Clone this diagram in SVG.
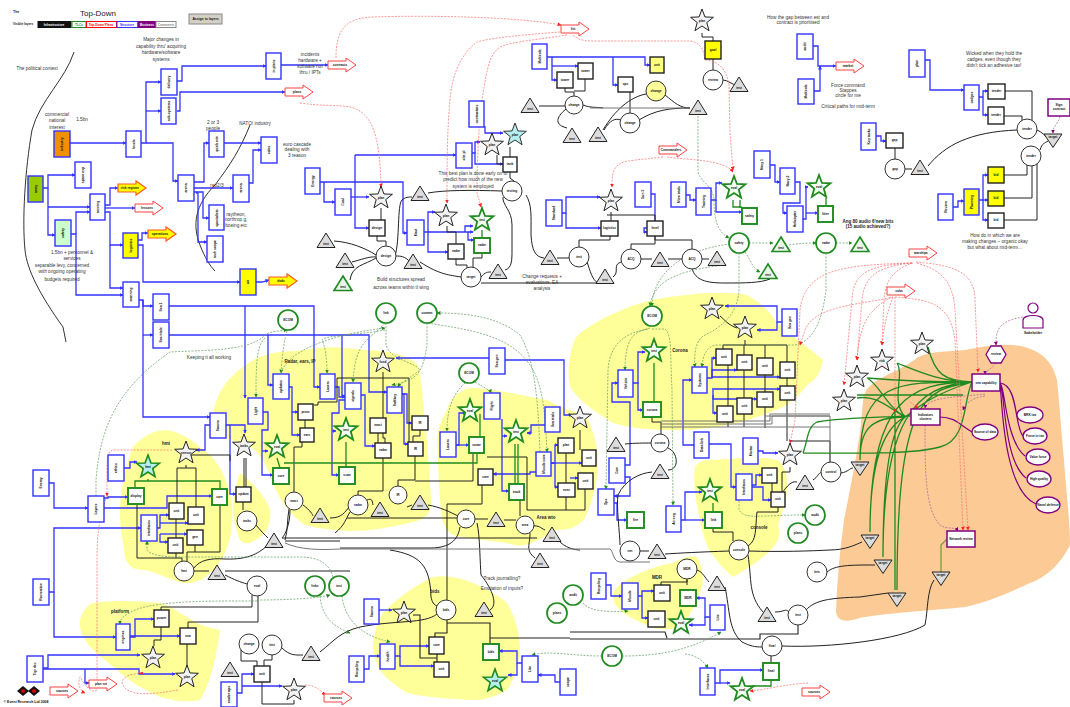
<svg xmlns="http://www.w3.org/2000/svg" width="1070" height="707" viewBox="0 0 1070 707">
<style>
text{font-family:"Liberation Sans",Arial,sans-serif;fill:#222}
.t{font-size:3.2px;font-weight:bold;text-anchor:middle;fill:#111}
.v{font-size:3.4px;font-weight:bold;text-anchor:middle;dominant-baseline:central;fill:#111}
.l{font-size:4.7px;text-anchor:middle;fill:#333}
.h{font-size:4.5px;font-weight:bold;text-anchor:middle;fill:#222}
.bb{fill:#fff;stroke:#3333ff;stroke-width:1.4}
.kb{fill:#fff;stroke:#222;stroke-width:1.4}
.gb{fill:#fff;stroke:#1f8a1f;stroke-width:1.9}
.yb{fill:#ffff00;stroke:#222;stroke-width:1.4}
.pb{fill:#fff;stroke:#800080;stroke-width:1.5}
.c{fill:#fff;stroke:#333;stroke-width:1}
.cg{fill:#fff;stroke:#1f8a1f;stroke-width:1.7}
.s0{fill:#f2f2f2;stroke:#222;stroke-width:1}
.sg{fill:#f4fff4;stroke:#1f8a1f;stroke-width:1.8}
.sc{fill:#b5eeee;stroke:#1f8a1f;stroke-width:1.6}
.sb{fill:#b5eeee;stroke:#333;stroke-width:1}
.tr{fill:#dcdcdc;stroke:#222;stroke-width:1}
.tg{fill:#e8f5e8;stroke:#1f8a1f;stroke-width:1.6}
.ra{fill:#fff;stroke:#ff4040;stroke-width:1}
.ya{fill:#ffff00;stroke:#ff5a20;stroke-width:1.2}
.e{fill:#fff;stroke:#800080;stroke-width:1.3}
path.B,path.K,path.G,path.P,path.R,path.DG,path.DP,path.O{fill:none}
.B{stroke:#3333ff;stroke-width:1.3;marker-end:url(#ab)}
.K{stroke:#222;stroke-width:1}
.Y{stroke:#777;stroke-width:1;fill:none}
.G{stroke:#1f8a1f;stroke-width:1.3}
.P{stroke:#800080;stroke-width:1.2}
.R{stroke:#ff6a6a;stroke-width:.7;stroke-dasharray:2 1.3;marker-end:url(#ar)}
.DG{stroke:#5c9a5c;stroke-width:.7;stroke-dasharray:2 1.3;marker-end:url(#ag)}
.DP{stroke:#a060a0;stroke-width:.7;stroke-dasharray:2 1.3;marker-end:url(#ap)}
.O{stroke:#222;stroke-width:1.1}
</style>
<defs>
<marker id="ab" markerUnits="userSpaceOnUse" markerWidth="4" markerHeight="4" refX="3.5" refY="2" orient="auto"><path d="M0,0L4,2L0,4Z" fill="#3333ff"/></marker>
<marker id="ar" markerUnits="userSpaceOnUse" markerWidth="4" markerHeight="4" refX="3.5" refY="2" orient="auto"><path d="M0,0L4,2L0,4Z" fill="#ff2020"/></marker>
<marker id="ag" markerUnits="userSpaceOnUse" markerWidth="4" markerHeight="4" refX="3.5" refY="2" orient="auto"><path d="M0,0L4,2L0,4Z" fill="#1f8a1f"/></marker>
<marker id="ap" markerUnits="userSpaceOnUse" markerWidth="4" markerHeight="4" refX="3.5" refY="2" orient="auto"><path d="M0,0L4,2L0,4Z" fill="#800080"/></marker>
<path id="st" d="M0,-12L2.94,-4.05L11.41,-3.71L4.76,1.55L7.05,9.71L0,5L-7.05,9.71L-4.76,1.55L-11.41,-3.71L-2.94,-4.05Z"/>
<path id="tu" d="M0,-8L9,6.5H-9Z"/>
<path id="td" d="M-9,-6H9L0,7.5Z"/>
<path id="ar2" d="M0,3H18V0L28,7L18,14V11H0Z"/>
</defs>

<g id="regions">
<path fill="#fcca95" d="M918,357C935,350 950,352 965,350C985,346 1005,343 1020,346C1040,350 1052,360 1057,380C1060,410 1062,440 1064,460C1066,490 1070,520 1070,545C1060,565 1045,578 1030,583C1005,595 985,603 965,607C925,611 885,613 860,618C850,621 838,624 836,612C837,580 840,550 844,520C850,490 857,455 861,425C863,405 862,395 868,388C880,375 900,372 918,357Z"/>
<path fill="#ffff99" d="M133,447C145,433 160,428 172,431C190,436 200,448 210,455C220,465 228,480 232,505C233,530 230,548 218,565C205,580 195,584 183,583C165,578 158,573 145,570C132,570 125,565 124,550C122,535 119,520 120,505C122,480 128,460 133,447Z"/>
<path fill="#ffff99" d="M240,473C250,480 265,495 270,510C272,525 265,536 255,540C248,545 241,545 238,535C235,525 232,515 233,505C235,490 237,480 240,473Z"/>
<path fill="#ffff99" d="M213,413C218,390 228,375 257,358C275,350 290,352 305,350C330,345 345,348 363,350C385,350 410,355 418,365C422,380 423,405 426,430C428,455 430,480 431,500C432,515 425,520 405,524C385,528 370,531 350,531C330,530 315,528 305,525C290,515 280,500 275,488C270,475 265,460 255,450C240,440 222,440 216,432C213,425 212,418 213,413Z"/>
<path fill="#ffff99" d="M447,410C450,400 458,390 470,388C490,388 520,395 547,400C565,410 580,412 587,417C595,435 598,450 598,465C597,480 595,495 585,518C575,530 565,530 555,530C540,540 525,548 515,545C495,540 470,540 453,535C445,530 442,522 441,510C439,490 438,465 437,440C438,428 442,418 447,410Z"/>
<path fill="#ffff99" d="M570,357C572,345 575,337 580,333C595,322 610,315 622,310C645,300 665,297 687,295C710,292 730,292 747,295C765,305 772,315 777,323C790,335 812,350 823,360C820,375 815,380 808,384C800,395 790,403 783,407C765,415 750,420 737,423C715,428 690,431 670,430C650,430 630,428 613,423C595,412 578,400 570,387C568,375 568,365 570,357Z"/>
<path fill="#ffff99" d="M695,467C700,460 705,460 713,460C735,458 760,456 777,460C785,465 788,475 787,490C785,505 781,515 778,525C780,535 779,540 775,545C765,558 745,570 733,577C722,568 715,558 709,550C703,535 700,525 698,510C695,495 693,480 695,467Z"/>
<path fill="#ffff99" d="M613,593C618,585 625,580 632,577C645,570 660,565 672,563C685,557 692,555 697,557C703,568 704,578 702,587C695,605 688,620 680,627C670,630 660,630 650,627C635,620 625,615 620,610C615,605 612,600 613,593Z"/>
<path fill="#ffff99" d="M80,620C83,610 88,605 93,603C115,600 140,601 160,603C170,606 178,612 187,617C197,625 210,628 220,630C218,645 216,655 213,667C210,680 205,692 200,700C185,703 172,700 160,697C145,690 130,682 117,670C105,660 92,650 87,643C82,635 79,628 80,620Z"/>
<path fill="#ffff99" d="M373,643C375,630 378,620 383,613C395,600 415,585 433,577C447,575 460,578 473,583C488,590 498,595 507,603C516,618 519,633 520,647C519,665 514,680 507,690C495,697 485,700 473,700C450,699 425,697 407,693C395,685 385,678 380,670C375,660 372,652 373,643Z"/>
</g>

<g id="context-curves" fill="none" stroke="#333" stroke-width="1">
<path d="M74,52C65,80 40,100 32,130C25,170 22,220 25,250C27,270 40,295 63,327L66,342"/>
<path d="M250,125C240,150 230,165 215,185C195,205 192,225 200,245C205,258 210,266 215,271"/>
</g>

<g id="connectors">
<path class="B" d="M70,143H126"/><path class="B" d="M141,143H146V82H161"/><path class="B" d="M146,111H161"/><path class="B" d="M146,143H173V181H178"/><path class="B" d="M177,81H182V66H266"/><path class="B" d="M177,111H180V92H285"/><path class="B" d="M281,65H328"/>
<path class="B" d="M194,182H204V143H209"/><path class="B" d="M194,188H233"/><path class="B" d="M194,192H203V218H209"/><path class="B" d="M196,193H198V242H207"/><path class="B" d="M224,143H261"/><path class="B" d="M249,183H253V150H261"/>
<path class="B" d="M43,188H48V175H75"/><path class="B" d="M48,188V235H55"/><path class="B" d="M48,207H90"/><path class="B" d="M71,234H76V295H123"/><path class="B" d="M76,234V212H90"/>
<path class="B" d="M105,205H110V188H118"/><path class="B" d="M105,208H135"/><path class="B" d="M105,212H110V245H123"/><path class="B" d="M110,245V288H123"/><path class="B" d="M138,240H142V233H148"/><path class="B" d="M138,245H143V282H240"/><path class="B" d="M256,282H262L269,280"/>
<path class="B" d="M139,300H143V417H210"/><path class="B" d="M143,300V306H153"/><path class="B" d="M143,335H153"/><path class="B" d="M169,306H314V387H320"/><path class="B" d="M245,306V398"/><path class="B" d="M169,335H369V392H387"/><path class="B" d="M342,335V396H345"/><path class="B" d="M268,335V385H273"/>
<path class="B" d="M49,483H54V508H88"/><path class="B" d="M124,468H130V462H137"/><path class="B" d="M104,498H108V497H128"/><path class="B" d="M104,508H167V496H212"/><path class="B" d="M210,425H205V450H196"/><path class="B" d="M225,425H245V433"/><path class="B" d="M230,425V494H236"/>
<path class="B" d="M263,412H268V430H262V475H273"/><path class="B" d="M262,451H268"/><path class="B" d="M289,387H292V412H298"/><path class="B" d="M292,412V435H300"/>
<path class="B" d="M335,387H339V397H345"/><path class="B" d="M345,400H339V413H332V475H339"/><path class="B" d="M332,431H336"/><path class="B" d="M361,395H365V446H375"/><path class="B" d="M402,394H407V423H412"/><path class="B" d="M402,394H404V444H408"/>
<path class="B" d="M456,445H469"/><path class="B" d="M456,445H459V413H466"/><path class="B" d="M502,419V491H509"/><path class="B" d="M502,436H507"/><path class="B" d="M505,360H564V415H572"/><path class="B" d="M489,358H396"/><path class="B" d="M545,425H531V433H527"/><path class="B" d="M536,472H530V474H493"/>
<path class="B" d="M551,463H555V445H558"/><path class="B" d="M555,463V487H558"/><path class="B" d="M551,463H582"/><path class="B" d="M570,478H578"/>
<path class="B" d="M633,383H638V352H645"/><path class="B" d="M638,383V410H643"/><path class="B" d="M625,465H630V402H612V383H618"/><path class="B" d="M625,477H630V496H614"/><path class="B" d="M614,503H617V520H627"/><path class="B" d="M681,520H685V492H702"/><path class="B" d="M685,520H705"/><path class="B" d="M694,445H683V380H692"/><path class="B" d="M709,444H731V487H736"/>
<path class="B" d="M758,451H763V453H778"/><path class="B" d="M752,487H763V500H771"/><path class="B" d="M752,485H756V475H762"/><path class="B" d="M782,322H777V306H725"/><path class="B" d="M777,322V330H757"/>
<path class="B" d="M707,378H712V370H737"/><path class="B" d="M712,377H780"/><path class="B" d="M712,389H780"/><path class="B" d="M713,390V399H757"/><path class="B" d="M713,395V413H717"/><path class="B" d="M712,378V358H716"/>
<path class="B" d="M606,585H611V596H622"/><path class="B" d="M638,596H642V591H654"/><path class="B" d="M642,596V618H648"/><path class="B" d="M725,617H705V598H696"/><path class="B" d="M705,617V625H689"/><path class="B" d="M715,683H720V670H763"/><path class="B" d="M720,683H730"/>
<path class="B" d="M379,610H392"/><path class="B" d="M364,669H369V656H380"/><path class="B" d="M395,656H400V646H429"/><path class="B" d="M400,656V666H434"/><path class="B" d="M522,663H517V651H499"/><path class="B" d="M517,663V675H508"/><path class="B" d="M560,682H555V675H538"/>
<path class="B" d="M49,592H54V528H141"/><path class="B" d="M54,592V637H116"/><path class="B" d="M130,637H135V619H154"/><path class="B" d="M130,636H180"/><path class="B" d="M43,668H48V655H140"/><path class="B" d="M43,669H139V674H175"/><path class="B" d="M85,669V683H89"/><path class="B" d="M237,693H242V674H254"/><path class="B" d="M242,686H282"/>
<path class="B" d="M157,528H160V515H169"/><path class="B" d="M160,523H188"/><path class="B" d="M160,534H187"/><path class="B" d="M160,534V542H168"/>
<path class="B" d="M876,136H881V141H886"/><path class="B" d="M925,60H930V90H964"/><path class="B" d="M979,97H983V91H988"/><path class="B" d="M983,97V115H988"/><path class="B" d="M953,207H958V201H964"/><path class="B" d="M979,200H983V175H988"/><path class="B" d="M983,200H988"/><path class="B" d="M983,200V220H988"/><path class="B" d="M813,46H818V66H836"/><path class="B" d="M814,91H820V66"/>
<path class="B" d="M547,57H645V65H650"/><path class="B" d="M552,57V80H557"/><path class="B" d="M552,66H578"/><path class="B" d="M613,57V85H618"/><path class="B" d="M484,127H485V133H503"/><path class="B" d="M472,153H475V164H503"/><path class="B" d="M475,153V142H480"/>
<path class="B" d="M355,155H456"/><path class="B" d="M355,155V228H369"/><path class="B" d="M351,197H369"/><path class="B" d="M320,182H403V233H407"/><path class="B" d="M324,182V202H335"/><path class="B" d="M424,232H473"/><path class="B" d="M428,232V212H435"/><path class="B" d="M428,232V252H448"/><path class="B" d="M465,232V226H473"/><path class="B" d="M468,232V240H474"/>
<path class="B" d="M562,213H566V197H600"/><path class="B" d="M566,213V228H601"/><path class="B" d="M651,194H655V228H644V232H647"/><path class="B" d="M686,195H690V200H696"/><path class="B" d="M711,200H716V183H722"/><path class="B" d="M716,200V212H742"/><path class="B" d="M770,165H775V182H780"/><path class="B" d="M795,182H800V203H783V213H787"/><path class="B" d="M803,219H806V187H808"/><path class="B" d="M806,213H818"/>

<path class="K" d="M377,236V241H386V246M381,208V220M334,241C350,242 365,248 376,255M352,262C360,260 370,256 376,257M350,280C352,265 365,265 376,258M396,256C400,256 405,256 410,262M420,262C440,275 450,275 461,277M395,256C400,240 397,205 402,200C406,197 408,197 412,197M428,193C445,190 470,190 502,191M510,172V178L514,181M510,147V157M497,155V164H503M447,226V232H456V244M456,259V265H467V268M482,253V258H473V268M481,277C485,272 488,272 491,272M505,270C512,268 512,260 512,250V225C512,210 502,205 503,197M526,195C532,205 531,215 531,235C532,250 535,257 544,258M481,283H598M557,258H569M587,262C590,270 592,280 598,283M579,247V240H610V236M565,88V92H574V96M585,79V91H574M539,106H565"/>
<path class="K" d="M583,105C590,108 598,107 603,108M603,130C615,110 630,97 646,94M665,95C675,103 680,108 690,108M639,120C655,110 670,108 690,108M630,92V113M566,109C555,118 555,125 567,128M604,130C610,120 615,118 621,120M713,59V70M702,33V37H713V41M723,80C728,80 732,85 737,85M611,212V221M607,215H655M655,215V221M655,236V240H692V249M655,236V244H631V249M641,259H652M668,259H682M702,259H709M692,269C696,280 705,283 725,283C745,283 760,283 770,279M621,262C612,265 620,272 613,277"/>
<path class="Y" d="M590,108H690"/>
<path class="K" d="M895,148V159M905,169H912M928,166C945,145 970,132 1017,130M1005,91H1032V121M1004,116H1022V122M1004,175H1027V163M1004,198H1032V166M1004,220H1037V163M1040,150C1042,143 1045,143 1048,141M1037,130C1042,132 1045,136 1047,137"/>
<path class="K" d="M305,420V428M314,405H318V402H337V378H409V442M383,372V438H385V443M378,433V443M420,430V436H413V442M302,442V447H294V492M383,458V491H358V495M415,456V480H398V486M473,453V481H415M482,485V504H447M447,504V600M487,457H527V510M516,500H520V516M566,497V510H527M585,489V510H566M566,453V483M580,430V450"/>
<path class="G" d="M284,463H477V453M277,458L280,468M346,442V467M515,444V484M518,444V484M482,230V238M654,363V402M713,503V512M771,680V686H752M148,479V481H135V488M148,481H220V488M480,414V437M740,200V208M826,198V206M733,200V207H742"/>
<path class="K" d="M303,505C310,510 313,515 313,516M330,518C342,518 345,512 349,507M367,500C372,498 372,500 373,505M350,512C345,520 345,525 335,533M289,509C287,520 288,530 285,540M347,518H457M407,507L412,505M428,505C440,507 450,512 458,516M475,519H488M504,520H516M530,533C530,545 525,550 535,558M558,540C565,548 575,550 580,550M531,526C540,525 540,528 545,530M477,523C480,535 480,565 481,575C493,590 498,605 490,610M460,527C458,540 450,548 430,548H340"/>
<path class="K" d="M282,538H537M285,541H340M390,550C420,555 430,565 431,597C432,602 434,605 437,606M437,614C425,624 395,620 360,627C340,632 335,640 320,652M194,568C200,560 210,558 225,559C250,560 260,552 268,545M225,571H350M194,571H209M225,575C235,580 240,582 247,584M258,596V622H188V628M252,595V607H161V610M161,627V640H154V646M187,666V644"/>
<path class="Y" d="M285,543C300,550 320,550 340,549H610C613,550 613,562 620,562H650"/>
<path class="K" d="M186,465V468H177V503M186,468H196V507M137,505V558H182V562M220,505V552H187V561M176,553V558M195,545V552M176,519V538M243,502V510M256,525C260,530 265,535 268,538M290,510C290,525 285,535 282,538M190,455H230V461M244,458V487M246,458V487"/>
<path class="K" d="M640,551H649M665,554C680,553 700,552 729,551M749,551C780,552 810,551 830,550C845,550 855,545 862,542M748,555C752,580 748,595 763,612M775,612C785,612 785,608 789,612M806,610C815,600 830,598 860,597L888,593M827,572C835,565 850,565 875,565M782,646C830,648 900,640 925,625C928,610 927,590 934,580M725,587C730,610 728,630 742,642C750,646 755,647 762,647M697,570C703,572 705,578 709,582M687,579V585M687,580V582H661V585"/>
<path class="O" d="M490,638H570M570,632H665L667,638M570,639H667H760V634H798V625M490,644V623H447V620M447,620V633H435V637M437,654V658H420V615H413M437,654V662M771,656V663"/>
<path class="K" d="M652,417V422H661V434M728,422V427M744,414V427M765,407V428M728,365V406M744,370V398M765,375V392M787,378V386M745,340V345M723,349V345H787V362M744,345V355M765,345V358M787,400V441M790,441H830V463M790,467V472H782V492M772,483V492M778,507V512H757C755,530 757,540 748,546M713,528V532H733V541M625,444C635,443 645,443 651,443M668,448C678,452 680,470 668,470M652,472C640,473 625,480 618,495C616,505 620,535 620,545M813,480C818,477 818,473 822,472M780,495C785,490 790,480 797,482M841,473C848,472 850,468 853,468M241,650V661H257V666M272,655V660H264V666M282,648C290,656 296,655 303,655M262,682V704H294V700M720,316C725,320 728,325 737,328"/>
<path class="Y" d="M661,427H830M661,424H772V416H830M661,421H770V414H830M765,416H830V463"/>

<path class="G" d="M972,382C945,381 935,375 928,347M972,382C940,382 915,370 897,363M972,382C925,382 890,380 867,378M963,395H857M972,382C930,395 915,410 905,417M905,417C885,405 875,395 857,398M905,417C885,405 880,385 867,378M905,417C890,400 905,375 897,363M972,382C900,382 860,380 860,460M905,417C870,417 860,430 860,460M972,382C910,382 870,400 870,532M905,417C880,430 870,470 870,532M972,382C915,385 883,420 883,557M905,417C890,430 883,480 883,557M972,382C925,390 897,395 897,590M895,412V590M972,382C963,400 968,440 940,447C910,455 850,453 803,453M910,416C860,418 840,418 817,422C807,427 808,440 803,453"/>
<path class="G" style="stroke:#7a9c3a" d="M941,572V545L947,539"/>
<path class="P" d="M1000,383C1015,385 1015,412 1017,415M1000,383C1018,384 1015,430 1023,436M1000,383C1005,384 1005,440 1025,456M1000,383C1005,390 1003,460 1026,478M1000,383C1002,400 1003,490 1036,504M972,432C960,425 955,417 940,417"/>

<path class="R" d="M336,58C336,30 345,18 373,17C430,15 520,17 561,25"/><path class="R" d="M300,103C320,106 340,105 350,107C370,112 380,130 381,187"/><path class="R" d="M567,35C535,40 510,42 500,47C490,55 488,62 482,100C478,130 477,170 477,193L481,207"/><path class="R" d="M560,32C520,35 490,38 477,42C460,55 452,75 450,100C447,130 447,170 447,203"/><path class="R" d="M573,35C580,42 590,41 600,41H690C700,42 704,50 705,60C718,60 727,70 729,85L730,133L733,170"/>
<path class="R" d="M663,157C640,160 622,160 618,165C612,170 612,178 612,187"/><path class="R" d="M667,157C690,160 725,160 733,172"/>
<path class="R" d="M912,263C840,265 805,270 800,310L795,420L790,443"/><path class="R" d="M912,263C870,265 853,272 852,300L844,385"/><path class="R" d="M912,263C880,266 864,275 862,300L857,360"/><path class="R" d="M913,263C890,270 885,285 884,300L882,345"/><path class="R" d="M916,262C950,265 975,270 975,300L978,372"/><path class="R" d="M917,263C940,270 953,280 955,310L968,530"/>
<path class="R" d="M893,297C860,305 815,305 805,330L800,345"/><path class="R" d="M895,297C925,300 950,300 955,340L963,530"/><path class="R" d="M910,402L918,408"/><path class="R" d="M895,297V412"/><path class="R" d="M891,297C870,310 860,320 857,360"/><path class="R" d="M893,297C888,310 884,325 882,345"/>
<path class="R" d="M172,450H115C108,450 107,455 107,470V496"/><path class="R" d="M107,496C100,515 97,530 97,560V688"/><path class="R" d="M178,690C150,695 125,697 122,682C125,672 140,675 143,672"/><path class="R" d="M97,690C90,695 82,680 80,677C78,680 78,690 85,693"/><path class="R" d="M305,685C315,685 320,690 325,695"/><path class="R" d="M808,683C780,685 765,690 750,691"/>

<path class="DG" d="M96,496V480C100,430 115,390 170,352C200,350 250,352 265,335C270,331 280,331 287,330"/><path class="DG" d="M265,338C256,345 256,370 256,397"/><path class="DG" d="M287,331C283,345 282,360 281,373"/><path class="DG" d="M385,323C370,340 355,340 353,382"/><path class="DG" d="M386,323V345C390,360 415,362 420,370C410,378 400,383 398,387"/><path class="DG" d="M427,323V345C423,370 420,380 392,385"/><path class="DG" d="M385,330C360,335 325,335 322,340C325,345 327,360 327,373"/><path class="DG" d="M281,373C290,345 350,332 385,328"/><path class="DG" d="M428,323C470,330 510,335 530,365C540,380 545,400 547,452"/><path class="DG" d="M540,452C538,400 535,360 520,335C500,318 470,313 437,313"/><path class="DG" d="M465,383C452,395 447,410 447,431"/><path class="DG" d="M475,382C485,388 490,390 491,393"/>
<path class="DG" d="M650,328C640,332 625,330 625,370"/><path class="DG" d="M648,329C630,332 610,340 608,370L606,489"/><path class="DG" d="M652,329H665C672,335 670,350 672,390L673,505"/><path class="DG" d="M730,244C680,250 653,275 652,306"/><path class="DG" d="M717,266C670,272 653,285 650,306"/><path class="DG" d="M739,253V290C738,315 720,328 705,335C695,340 694,355 695,367"/><path class="DG" d="M826,253V290C822,320 815,340 795,345H715C706,348 703,355 702,367"/><path class="DG" d="M698,116V172C700,182 713,185 714,200C714,225 720,233 729,238"/><path class="DG" d="M749,243H773"/><path class="DG" d="M789,245C800,243 810,243 816,243"/><path class="DG" d="M836,243H852"/><path class="DG" d="M745,252C752,262 752,268 760,272"/><path class="DG" d="M739,501V510C745,520 760,515 805,515"/><path class="DG" d="M583,603C590,612 610,612 628,611"/><path class="DG" d="M342,596C345,620 360,635 390,642"/><path class="DG" d="M602,656C570,656 550,650 532,655"/><path class="DG" d="M622,656C660,656 690,650 721,632"/><path class="DG" d="M685,654C695,655 703,660 708,668"/><path class="DG" d="M257,600C290,600 320,598 330,595"/><path class="DG" d="M257,601C220,601 160,600 135,610C125,615 120,618 120,624"/><path class="DG" d="M333,577C330,565 320,557 300,557H175C165,557 150,555 147,550V541"/><path class="DG" d="M320,596C322,615 330,625 350,633"/>

<path class="DP" d="M1023,317C1005,320 995,325 996,345"/><path class="DP" d="M996,363C990,370 985,372 985,374"/><path class="DP" d="M985,394C960,397 927,397 925,408"/><path class="DP" d="M985,396C970,398 965,405 963,410"/><path class="DP" d="M925,425C925,470 925,510 940,525C947,530 955,526 958,531"/><path class="DP" d="M1060,116C1058,125 1053,125 1053,133"/>
</g>

<g id="legend">
<text x="13" y="13" font-size="3.5" font-weight="bold">The</text>
<text x="80" y="16" font-size="8">Top-Down</text>
<text x="13" y="25" font-size="3.2" font-weight="bold">Visible layers</text>
<rect x="38" y="21.500" width="33" height="6" fill="#111" stroke="#111"/><text x="54" y="26" class="t" style="fill:#fff">Infrastructure</text>
<rect x="72" y="21.500" width="14" height="6" fill="#fff" stroke="#1f8a1f"/><text x="79" y="26" class="t" style="fill:#1f8a1f">TLCs</text>
<rect x="86.500" y="21.500" width="30" height="6" fill="#fff" stroke="#f00"/><text x="101" y="26" class="t" style="fill:#f00">Top-Down Plans</text>
<rect x="117" y="21.500" width="21" height="6" fill="#fff" stroke="#33f"/><text x="127" y="26" class="t" style="fill:#33f">Structure</text>
<rect x="138" y="21.500" width="18" height="6" fill="#800080" stroke="#800080"/><text x="147" y="26" class="t" style="fill:#fff">Business</text>
<rect x="156" y="21.500" width="20" height="6" fill="#fff" stroke="#888"/><text x="166" y="26" class="t" style="fill:#888">Comments</text>
<rect x="189" y="14" width="33" height="10" fill="#d4d0c8" stroke="#888"/><text x="205.500" y="20" class="t" style="font-size:3.4px">Assign to layers</text>
</g>

<g id="notes">
<text class="l" x="161" y="41">Major changes in</text><text class="l" x="161" y="48">capability thru' acquiring</text><text class="l" x="161" y="54">hardware/software</text><text class="l" x="161" y="61">systems</text>
<text class="l" x="37" y="70">The political context</text>
<text class="l" x="57" y="116">commercial</text><text class="l" x="57" y="122">national</text><text class="l" x="57" y="129">interest</text><text class="l" x="82" y="121">1.5bn</text>
<text class="l" x="310" y="56">incidents</text><text class="l" x="310" y="62">hardware +</text><text class="l" x="310" y="68">software run</text><text class="l" x="310" y="74">thru / IPTs</text>
<text class="l" x="213" y="124">2 or 3</text><text class="l" x="213" y="130">people</text><text class="l" x="255" y="125">NATO/ industry</text><text class="l" x="217" y="187">rep2/3</text>
<text class="l" x="236" y="216">raytheon,</text><text class="l" x="236" y="221">northrop g,</text><text class="l" x="236" y="227">boeing etc</text>
<text class="l" x="297" y="146">euro cascade</text><text class="l" x="297" y="151">dealing with</text><text class="l" x="297" y="157">3 reason</text>
<text class="l" x="72" y="254">1.5bn + personnel &amp;</text><text class="l" x="72" y="260">services</text><text class="l" x="62" y="267">separable levy, concerned</text><text class="l" x="62" y="273">with ongoing operating</text><text class="l" x="62" y="281">budgets required</text>
<text class="l" x="401" y="281">Build structures spread</text><text class="l" x="401" y="289">across teams within tl wing</text>
<text class="l" x="473" y="175">This best plan is done early on to</text><text class="l" x="473" y="181">predict how much of the new</text><text class="l" x="473" y="188">system is employed</text>
<text class="l" x="542" y="278">Change requests +</text><text class="l" x="542" y="284">evaluations, EA</text><text class="l" x="542" y="290">analysis</text>
<text class="l" x="798" y="19">How the gap between est and</text><text class="l" x="798" y="24">contract is prioritised</text>
<text class="l" x="848" y="87">Force command</text><text class="l" x="848" y="92">Stappes</text><text class="l" x="848" y="97">circle for me</text><text class="l" x="848" y="108">Critical paths for mid-term</text>
<text class="l" x="994" y="55">Wicked when they hold the</text><text class="l" x="994" y="61">cadges, even though they</text><text class="l" x="994" y="67">didn't tick an adhesive tax!</text>
<text class="l" x="995" y="237">How do in which we are</text><text class="l" x="995" y="243">making changes – organic okay</text><text class="l" x="995" y="249">but what about mid-term…</text>
<text class="h" x="868" y="223">Ang 80 audio 6'new bits</text><text class="h" x="868" y="228">(15 audio achieved?)</text>
<text class="l" x="209" y="359">Keeping it all working</text>
<text class="h" x="300" y="363">Radar, ears, IP</text><text class="h" x="166" y="445">hmi</text><text class="h" x="680" y="352">Corona</text><text class="h" x="546" y="519">Area wto</text><text class="h" x="759" y="529">console</text><text class="h" x="435" y="593">bids</text><text class="h" x="120" y="613">platform</text><text class="h" x="657" y="579">MDR</text>
<text class="l" x="502" y="580">Track journalling?</text><text class="l" x="502" y="590">Emulation of inputs?</text>
<text x="26" y="703" class="t" style="font-size:3.5px">© Event Research Ltd 2008</text>
<path d="M23,686L29,691L23,696L17,691Z" fill="#111"/><path d="M34,686L40,691L34,696L28,691Z" fill="#111"/><circle cx="23" cy="691" r="2" fill="#c00"/><circle cx="34" cy="691" r="2" fill="#c00"/>
</g>

<g id="nodes">
<g id="n1"><rect x="54" y="131" width="16" height="26" fill="#f09000" stroke="#3333ff" stroke-width="1.4"/><text class="v" transform="translate(62,144) rotate(-90)">industry</text></g>
<g id="n2"><rect class="bb" x="126" y="131" width="15" height="26"/><text class="v" transform="translate(133.500,144) rotate(-90)">levels</text></g>
<g id="n3"><rect class="bb" x="161" y="69" width="16" height="26"/><text class="v" transform="translate(169,82) rotate(-90)">delivery</text></g>
<g id="n4"><rect class="bb" x="161" y="98" width="15" height="26"/><text class="v" transform="translate(168.500,111) rotate(-90)">sub-systems</text></g>
<g id="n5"><rect class="bb" x="266" y="53" width="15" height="26"/><text class="v" transform="translate(273.500,66) rotate(-90)">in plans</text></g>
<g id="n6"><rect class="bb" x="178" y="175" width="16" height="26"/><text class="v" transform="translate(186,188) rotate(-90)">arena</text></g>
<g id="n7"><rect class="bb" x="233" y="175" width="16" height="27"/><text class="v" transform="translate(241,188) rotate(-90)">arena</text></g>
<g id="n8"><rect class="bb" x="209" y="131" width="15" height="26"/><text class="v" transform="translate(216.500,144) rotate(-90)">quick win</text></g>
<g id="n9"><rect class="bb" x="261" y="137" width="16" height="26"/><text class="v" transform="translate(269,150) rotate(-90)">sales</text></g>
<g id="n10"><rect class="bb" x="209" y="205" width="15" height="25"/><text class="v" transform="translate(216.500,218) rotate(-90)">specialists</text></g>
<g id="n11"><rect class="bb" x="207" y="236" width="16" height="26"/><text class="v" transform="translate(215,249) rotate(-90)">tech scope</text></g>
<g id="n12"><rect x="28" y="176" width="15" height="26" fill="#99cc00" stroke="#3333ff" stroke-width="1.4"/><text class="v" transform="translate(35.500,189) rotate(-90)">army</text></g>
<g id="n13"><rect class="bb" x="75" y="162" width="16" height="26"/><text class="v" transform="translate(83,175) rotate(-90)">space exp</text></g>
<g id="n14"><rect class="bb" x="90" y="194" width="15" height="26"/><text class="v" transform="translate(97.500,207) rotate(-90)">running</text></g>
<g id="n15"><rect x="55" y="220" width="16" height="26" fill="#ccffcc" stroke="#3333ff" stroke-width="1.4"/><text class="v" transform="translate(63,233) rotate(-90)">safety</text></g>
<g id="n16"><rect x="123" y="233" width="15" height="25" fill="#ff0" stroke="#3333ff" stroke-width="1.4"/><text class="v" transform="translate(130.500,245.500) rotate(-90)">logistics</text></g>
<g id="n17"><rect x="240" y="269" width="16" height="26" fill="#ff0" stroke="#3333ff" stroke-width="1.4"/><text class="v" transform="translate(248,282) rotate(-90)">air</text></g>
<g id="n18"><rect class="bb" x="123" y="282" width="16" height="25"/><text class="v" transform="translate(131,294.500) rotate(-90)">manning</text></g>
<g id="n19"><rect class="bb" x="153" y="294" width="16" height="26"/><text class="v" transform="translate(161,307) rotate(-90)">Sea 1</text></g>
<g id="n20"><rect class="bb" x="153" y="322" width="16" height="26"/><text class="v" transform="translate(161,335) rotate(-90)">Sea trials</text></g>
<g id="n21"><rect class="bb" x="210" y="413" width="16" height="25"/><text class="v" transform="translate(218,425.500) rotate(-90)">Source</text></g>
<g id="n22"><rect class="bb" x="248" y="398" width="15" height="26"/><text class="v" transform="translate(255.500,411) rotate(-90)">Light</text></g>
<g id="n23"><rect class="bb" x="273" y="374" width="16" height="25"/><text class="v" transform="translate(281,386.500) rotate(-90)">updates</text></g>
<g id="n24"><rect class="bb" x="320" y="374" width="15" height="25"/><text class="v" transform="translate(327.500,386.500) rotate(-90)">Lasers</text></g>
<g id="n25"><rect class="bb" x="345" y="383" width="16" height="26"/><text class="v" transform="translate(353,396) rotate(-90)">signals</text></g>
<g id="n26"><rect class="bb" x="387" y="387" width="15" height="26"/><text class="v" transform="translate(394.500,400) rotate(-90)">Softkey</text></g>
<g id="n27"><rect class="bb" x="33" y="470" width="16" height="26"/><text class="v" transform="translate(41,483) rotate(-90)">Enemy</text></g>
<g id="n28"><rect class="bb" x="88" y="496" width="16" height="26"/><text class="v" transform="translate(96,509) rotate(-90)">Layers</text></g>
<g id="n29"><rect class="bb" x="108" y="455" width="16" height="26"/><text class="v" transform="translate(116,468) rotate(-90)">ethics</text></g>
<g id="n30"><use href="#st" x="148" y="467" class="sc"/><text class="t" x="148" y="468">hmi</text></g>
<g id="n31"><use href="#st" x="186" y="453" class="s0"/><text class="t" x="186" y="454">sensor</text></g>
<g id="n32"><use href="#st" x="244" y="446" class="s0"/><text class="t" x="244" y="447">tasks</text></g>
<g id="n33"><rect class="gb" x="128" y="488" width="16" height="16"/><text class="t" x="136" y="497">display</text></g>
<g id="n34"><rect class="gb" x="212" y="489" width="15" height="16"/><text class="t" x="219.500" y="498">core</text></g>
<g id="n35"><rect class="kb" x="236" y="487" width="15" height="15"/><text class="t" x="243.500" y="495">update</text></g>
<g id="n36"><use href="#st" x="277" y="447" class="sg"/><text class="t" x="277" y="448">eval</text></g>
<g id="n37"><rect class="gb" x="273" y="468" width="16" height="16"/><text class="t" x="281" y="477">core</text></g>
<g id="n38"><rect class="kb" x="298" y="404" width="15" height="16"/><text class="t" x="305.500" y="413">proto</text></g>
<g id="n39"><rect class="kb" x="300" y="428" width="14" height="14"/><text class="t" x="307" y="436">ears</text></g>
<g id="n40"><rect class="kb" x="370" y="418" width="16" height="15"/><text class="t" x="378" y="426">mast</text></g>
<g id="n41"><rect class="kb" x="375" y="443" width="16" height="15"/><text class="t" x="383" y="451">radar</text></g>
<g id="n42"><rect class="kb" x="412" y="416" width="16" height="14"/><text class="t" x="420" y="424">IR</text></g>
<g id="n43"><rect class="kb" x="408" y="442" width="15" height="14"/><text class="t" x="415.500" y="450">IR</text></g>
<g id="n44"><rect class="gb" x="339" y="467" width="16" height="17"/><text class="t" x="347" y="476">scan</text></g>
<g id="n45"><rect class="gb" x="469" y="437" width="15" height="16"/><text class="t" x="476.500" y="446">sonar</text></g>
<g id="n46"><rect class="bb" x="440" y="432" width="16" height="25"/><text class="v" transform="translate(448,444.500) rotate(-90)">Lasers</text></g>
<g id="n47"><rect class="bb" x="484" y="393" width="16" height="26"/><text class="v" transform="translate(492,406) rotate(-90)">Flight</text></g>
<g id="n48"><rect class="bb" x="489" y="348" width="16" height="26"/><text class="v" transform="translate(497,361) rotate(-90)">Sea gen</text></g>
<g id="n49"><rect class="bb" x="545" y="407" width="15" height="25"/><text class="v" transform="translate(552.500,419.500) rotate(-90)">Sea trials</text></g>
<g id="n50"><rect class="bb" x="536" y="452" width="15" height="24"/><text class="v" transform="translate(543.500,464) rotate(-90)">Missile core</text></g>
<g id="n51"><rect class="kb" x="478" y="469" width="15" height="16"/><text class="t" x="485.500" y="478">core</text></g>
<g id="n52"><rect class="gb" x="509" y="484" width="15" height="16"/><text class="t" x="516.500" y="493">track</text></g>
<g id="n53"><rect class="kb" x="558" y="438" width="16" height="15"/><text class="t" x="566" y="446">plan</text></g>
<g id="n54"><rect class="kb" x="558" y="483" width="17" height="14"/><text class="t" x="566.500" y="491">exec</text></g>
<g id="n55"><rect class="kb" x="582" y="450" width="14" height="16"/><text class="t" x="589" y="459">unit</text></g>
<g id="n56"><rect class="kb" x="578" y="473" width="15" height="16"/><text class="t" x="585.500" y="482">unit</text></g>
<g id="n57"><use href="#st" x="346" y="430" class="sg"/><text class="t" x="346" y="431">test</text></g>
<g id="n58"><use href="#st" x="383" y="362" class="s0"/><text class="t" x="383" y="363">fund</text></g>
<g id="n59"><use href="#st" x="470" y="411" class="sg"/><text class="t" x="470" y="412">eval</text></g>
<g id="n60"><use href="#st" x="516" y="432" class="sg"/><text class="t" x="516" y="433">test</text></g>
<g id="n61"><use href="#st" x="580" y="418" class="s0"/><text class="t" x="580" y="419">plan</text></g>
<g id="n62"><circle class="cg" cx="288" cy="320" r="10"/><text class="t" x="288" y="321">ECOM</text></g>
<g id="n63"><circle class="cg" cx="386" cy="313" r="10"/><text class="t" x="386" y="314">link</text></g>
<g id="n64"><circle class="cg" cx="427" cy="313" r="10"/><text class="t" x="427" y="314">comms</text></g>
<g id="n65"><circle class="cg" cx="469" cy="373" r="10"/><text class="t" x="469" y="374">ECOM</text></g>
<g id="n66"><circle class="c" cx="294" cy="501" r="9"/><text class="t" x="294" y="502">mast</text></g>
<g id="n67"><circle class="c" cx="358" cy="505" r="10"/><text class="t" x="358" y="506">radar</text></g>
<g id="n68"><circle class="c" cx="398" cy="495" r="9"/><text class="t" x="398" y="496">IR</text></g>
<g id="n69"><circle class="c" cx="466" cy="519" r="9"/><text class="t" x="466" y="520">core</text></g>
<g id="n70"><circle class="c" cx="525" cy="525" r="9"/><text class="t" x="525" y="526">area</text></g>
<g id="n71"><use href="#tu" x="320" y="516" class="tr"/><text class="t" x="320" y="520">test</text></g>
<g id="n72"><use href="#tu" x="380" y="510" class="tr"/><text class="t" x="380" y="514">test</text></g>
<g id="n73"><use href="#tu" x="420" y="503" class="tr"/><text class="t" x="420" y="507">test</text></g>
<g id="n74"><use href="#tu" x="496" y="520" class="tr"/><text class="t" x="496" y="524">test</text></g>
<g id="n75"><use href="#tu" x="552" y="535" class="tr"/><text class="t" x="552" y="539">test</text></g>
<g id="n76"><use href="#tu" x="540" y="561" class="tr"/><text class="t" x="540" y="565">test</text></g>
<g id="n77"><circle class="cg" cx="652" cy="316" r="10"/><text class="t" x="652" y="317">ECOM</text></g>
<g id="n78"><use href="#st" x="654" y="351" class="sg"/><text class="t" x="654" y="352">test</text></g>
<g id="n79"><rect class="bb" x="618" y="370" width="15" height="27"/><text class="v" transform="translate(625.500,383.500) rotate(-90)">Vehicle</text></g>
<g id="n80"><rect class="gb" x="643" y="402" width="18" height="15"/><text class="t" x="652" y="411">corona</text></g>
<g id="n81"><circle class="c" cx="660" cy="443" r="9"/><text class="t" x="660" y="444">corona</text></g>
<g id="n82"><use href="#tu" x="616" y="445" class="tr"/><text class="t" x="616" y="449">test</text></g>
<g id="n83"><use href="#tu" x="660" y="472" class="tr"/><text class="t" x="660" y="476">test</text></g>
<g id="n84"><rect class="bb" x="609" y="458" width="16" height="25"/><text class="v" transform="translate(617,470.500) rotate(-90)">Gun</text></g>
<g id="n85"><rect class="bb" x="598" y="489" width="16" height="26"/><text class="v" transform="translate(606,502) rotate(-90)">Ops</text></g>
<g id="n86"><rect class="gb" x="627" y="512" width="17" height="16"/><text class="t" x="635.500" y="521">fire</text></g>
<g id="n87"><rect class="bb" x="666" y="506" width="15" height="26"/><text class="v" transform="translate(673.500,519) rotate(-90)">Air eng</text></g>
<g id="n88"><rect class="bb" x="694" y="432" width="15" height="26"/><text class="v" transform="translate(701.500,445) rotate(-90)">Data link</text></g>
<g id="n89"><use href="#st" x="712" y="309" class="s0"/><text class="t" x="712" y="310">plan</text></g>
<g id="n90"><use href="#st" x="745" y="328" class="s0"/><text class="t" x="745" y="329">plan</text></g>
<g id="n91"><rect class="bb" x="782" y="309" width="15" height="27"/><text class="v" transform="translate(789.500,322.500) rotate(-90)">Sea gen</text></g>
<g id="n92"><rect class="bb" x="692" y="367" width="15" height="26"/><text class="v" transform="translate(699.500,380) rotate(-90)">Systems</text></g>
<g id="n93"><rect class="kb" x="716" y="349" width="16" height="16"/><text class="t" x="724" y="358">unit</text></g>
<g id="n94"><rect class="kb" x="737" y="355" width="15" height="15"/><text class="t" x="744.500" y="363">unit</text></g>
<g id="n95"><rect class="kb" x="757" y="358" width="16" height="17"/><text class="t" x="765" y="367">unit</text></g>
<g id="n96"><rect class="kb" x="780" y="362" width="15" height="16"/><text class="t" x="787.500" y="371">unit</text></g>
<g id="n97"><rect class="kb" x="780" y="386" width="15" height="14"/><text class="t" x="787.500" y="394">unit</text></g>
<g id="n98"><rect class="kb" x="757" y="392" width="16" height="15"/><text class="t" x="765" y="400">unit</text></g>
<g id="n99"><rect class="kb" x="737" y="398" width="15" height="16"/><text class="t" x="744.500" y="407">unit</text></g>
<g id="n100"><rect class="kb" x="717" y="406" width="16" height="16"/><text class="t" x="725" y="415">unit</text></g>
<g id="n101"><rect class="bb" x="743" y="438" width="15" height="26"/><text class="v" transform="translate(750.500,451) rotate(-90)">Mortar</text></g>
<g id="n102"><use href="#st" x="790" y="455" class="s0"/><text class="t" x="790" y="456">plan</text></g>
<g id="n103"><rect class="bb" x="736" y="474" width="16" height="26"/><text class="v" transform="translate(744,487) rotate(-90)">Interfaces</text></g>
<g id="n104"><rect class="kb" x="762" y="468" width="15" height="15"/><text class="t" x="769.500" y="476">unit</text></g>
<g id="n105"><rect class="kb" x="771" y="492" width="14" height="15"/><text class="t" x="778" y="500">unit</text></g>
<g id="n106"><use href="#st" x="710" y="491" class="sg"/><text class="t" x="710" y="492">test</text></g>
<g id="n107"><rect class="gb" x="705" y="512" width="17" height="16"/><text class="t" x="713.500" y="521">link</text></g>
<g id="n108"><circle class="c" cx="831" cy="472" r="10"/><text class="t" x="831" y="473">control</text></g>
<g id="n109"><use href="#tu" x="805" y="483" class="tr"/><text class="t" x="805" y="487">test</text></g>
<g id="n110"><circle class="cg" cx="815" cy="515" r="10"/><text class="t" x="815" y="516">audit</text></g>
<g id="n111"><circle class="cg" cx="798" cy="533" r="10"/><text class="t" x="798" y="534">plans</text></g>
<g id="n112"><use href="#st" x="922" y="344" class="s0"/><text class="t" x="922" y="345">plan</text></g>
<g id="n113"><use href="#st" x="882" y="361" class="s0"/><text class="t" x="882" y="362">risk</text></g>
<g id="n114"><use href="#st" x="857" y="377" class="s0"/><text class="t" x="857" y="378">plan</text></g>
<g id="n115"><use href="#st" x="844" y="401" class="s0"/><text class="t" x="844" y="402">plan</text></g>
<g id="n116"><rect class="pb" x="972" y="374" width="28" height="17"/><text class="t" x="986" y="384">sea capability</text></g>
<g id="n117"><rect class="pb" x="911" y="409" width="29" height="16"/><text class="t" x="925.500" y="416">Indicators</text><text class="t" x="925.500" y="420">clusters</text></g>
<g id="n118"><rect class="pb" x="947" y="531" width="28" height="16"/><text class="t" x="961" y="540">Network review</text></g>
<g id="n119"><path class="e" d="M991,346H1001L1006,354.500L1001,363H991L986,354.500Z"/><text class="t" x="996" y="355">review</text></g>
<g id="n120"><circle cx="1033" cy="308" r="5" fill="#fff" stroke="#800080" stroke-width="1.2"/><path d="M1023,328V320C1023,314 1043,314 1043,320V328Z" fill="#fff" stroke="#800080" stroke-width="1.2"/><text class="t" x="1033" y="334">Stakeholder</text></g>
<g id="n121"><ellipse class="e" cx="1030" cy="415" rx="13" ry="8"/><text class="t" x="1030" y="416">BRK tax</text></g>
<g id="n122"><ellipse class="e" cx="1035" cy="436" rx="12" ry="8"/><text class="t" x="1035" y="437">Force in tax</text></g>
<g id="n123"><ellipse class="e" cx="1038" cy="457" rx="12" ry="8"/><text class="t" x="1038" y="458">Value force</text></g>
<g id="n124"><ellipse class="e" cx="1039" cy="479" rx="12" ry="8"/><text class="t" x="1039" y="480">High quality</text></g>
<g id="n125"><ellipse class="e" cx="1048" cy="505" rx="12" ry="8"/><text class="t" x="1048" y="506">Naval defence</text></g>
<g id="n126"><ellipse class="e" cx="985" cy="432" rx="13" ry="8"/><text class="t" x="985" y="433">Source of data</text></g>
<g id="n127"><use href="#td" x="860" y="468" class="tr"/><text class="t" x="860" y="466">target</text></g>
<g id="n128"><use href="#td" x="870" y="541" class="tr"/><text class="t" x="870" y="539">target</text></g>
<g id="n129"><use href="#td" x="883" y="566" class="tr"/><text class="t" x="883" y="564">target</text></g>
<g id="n130"><use href="#td" x="897" y="599" class="tr"/><text class="t" x="897" y="597">target</text></g>
<g id="n131"><use href="#td" x="941" y="578" class="tr"/><text class="t" x="941" y="576">target</text></g>
<g id="n132"><circle class="c" cx="817" cy="572" r="10"/><text class="t" x="817" y="573">kris</text></g>

<g id="n133"><use href="#st" x="702" y="21" class="s0"/><text class="t" x="702" y="22">plan</text></g>
<g id="n134"><rect class="yb" x="705" y="41" width="16" height="18"/><text class="t" x="713" y="51">goal</text></g>
<g id="n135"><circle class="c" cx="713" cy="80" r="10"/><text class="t" x="713" y="81">review</text></g>
<g id="n136"><use href="#tu" x="739" y="85" class="tr"/><text class="t" x="739" y="89">test</text></g>
<g id="n137"><rect x="650" y="57" width="14" height="16" fill="#ffff80" stroke="#222" stroke-width="1.4"/><text class="t" x="657" y="66">unit</text></g>
<g id="n138"><circle cx="656" cy="91" r="10" fill="#ffff99" stroke="#333"/><text class="t" x="656" y="92">change</text></g>
<g id="n139"><rect class="kb" x="618" y="77" width="15" height="15"/><text class="t" x="625.500" y="85">ops</text></g>
<g id="n140"><circle class="c" cx="630" cy="123" r="10"/><text class="t" x="630" y="124">change</text></g>
<g id="n141"><use href="#tu" x="698" y="108" class="tr"/><text class="t" x="698" y="112">test</text></g>
<g id="n142"><rect class="bb" x="532" y="44" width="15" height="25"/><text class="v" transform="translate(539.500,56.500) rotate(-90)">Multirole</text></g>
<g id="n143"><rect class="kb" x="557" y="72" width="16" height="16"/><text class="t" x="565" y="81">tower</text></g>
<g id="n144"><rect class="kb" x="578" y="63" width="15" height="16"/><text class="t" x="585.500" y="72">tower</text></g>
<g id="n145"><circle class="c" cx="574" cy="105" r="9"/><text class="t" x="574" y="106">change</text></g>
<g id="n146"><use href="#tu" x="530" y="106" class="tr"/><text class="t" x="530" y="110">test</text></g>
<g id="n147"><use href="#tu" x="572" y="136" class="tr"/><text class="t" x="572" y="140">test</text></g>
<g id="n148"><use href="#tu" x="598" y="135" class="tr"/><text class="t" x="598" y="139">test</text></g>
<g id="n149"><rect class="bb" x="469" y="101" width="15" height="26"/><text class="v" transform="translate(476.500,114) rotate(-90)">contractors</text></g>
<g id="n150"><use href="#st" x="515" y="135" class="sb"/><text class="t" x="515" y="136">plan</text></g>
<g id="n151"><use href="#st" x="492" y="145" class="s0"/><text class="t" x="492" y="146">plan</text></g>
<g id="n152"><rect class="bb" x="456" y="143" width="16" height="25"/><text class="v" transform="translate(464,155.500) rotate(-90)">site pl</text></g>
<g id="n153"><rect class="kb" x="503" y="157" width="14" height="15"/><text class="t" x="510" y="165">tank</text></g>
<g id="n154"><circle class="c" cx="512" cy="191" r="10"/><text class="t" x="512" y="192">testing</text></g>
<g id="n155"><use href="#tu" x="420" y="194" class="tr"/><text class="t" x="420" y="198">test</text></g>
<g id="n156"><rect class="bb" x="305" y="168" width="15" height="26"/><text class="v" transform="translate(312.500,181) rotate(-90)">Energy</text></g>
<g id="n157"><rect class="bb" x="335" y="189" width="16" height="26"/><text class="v" transform="translate(343,202) rotate(-90)">Coal</text></g>
<g id="n158"><use href="#st" x="381" y="198" class="s0"/><text class="t" x="381" y="199">plan</text></g>
<g id="n159"><rect class="kb" x="369" y="220" width="16" height="16"/><text class="t" x="377" y="229">design</text></g>
<g id="n160"><circle class="c" cx="386" cy="256" r="10"/><text class="t" x="386" y="257">design</text></g>
<g id="n161"><use href="#tu" x="326" y="241" class="tr"/><text class="t" x="326" y="245">test</text></g>
<g id="n162"><use href="#tu" x="345" y="261" class="tr"/><text class="t" x="345" y="265">test</text></g>
<g id="n163"><use href="#tu" x="343" y="284" class="tg"/><text class="t" x="343" y="288">test</text></g>
<g id="n164"><use href="#tu" x="413" y="262" class="tr"/><text class="t" x="413" y="266">test</text></g>
<g id="n165"><rect class="bb" x="407" y="220" width="17" height="25"/><text class="v" transform="translate(415.500,232.500) rotate(-90)">Mast</text></g>
<g id="n166"><use href="#st" x="446" y="216" class="s0"/><text class="t" x="446" y="217">plan</text></g>
<g id="n167"><use href="#st" x="482" y="220" class="sg"/><text class="t" x="482" y="221">test</text></g>
<g id="n168"><rect class="kb" x="448" y="244" width="16" height="15"/><text class="t" x="456" y="252">radar</text></g>
<g id="n169"><rect class="gb" x="474" y="238" width="16" height="15"/><text class="t" x="482" y="246">radar</text></g>
<g id="n170"><circle class="c" cx="471" cy="277" r="10"/><text class="t" x="471" y="278">target</text></g>
<g id="n171"><use href="#tu" x="498" y="272" class="tr"/><text class="t" x="498" y="276">test</text></g>
<g id="n172"><rect class="bb" x="546" y="200" width="16" height="26"/><text class="v" transform="translate(554,213) rotate(-90)">Standard</text></g>
<g id="n173"><use href="#tu" x="550" y="258" class="tr"/><text class="t" x="550" y="262">test</text></g>
<g id="n174"><circle class="c" cx="579" cy="257" r="10"/><text class="t" x="579" y="258">test</text></g>
<g id="n175"><rect class="kb" x="601" y="221" width="17" height="15"/><text class="t" x="609.500" y="229">logistics</text></g>
<g id="n176"><rect class="kb" x="647" y="221" width="16" height="15"/><text class="t" x="655" y="229">level</text></g>
<g id="n177"><circle class="c" cx="631" cy="259" r="10"/><text class="t" x="631" y="260">ACQ</text></g>
<g id="n178"><use href="#tu" x="660" y="260" class="tr"/><text class="t" x="660" y="264">test</text></g>
<g id="n179"><circle class="c" cx="692" cy="259" r="10"/><text class="t" x="692" y="260">ACQ</text></g>
<g id="n180"><use href="#tu" x="717" y="259" class="tr"/><text class="t" x="717" y="263">test</text></g>
<g id="n181"><use href="#tu" x="605" y="277" class="tr"/><text class="t" x="605" y="281">test</text></g>
<g id="n182"><use href="#st" x="611" y="201" class="s0"/><text class="t" x="611" y="202">plan</text></g>
<g id="n183"><rect class="bb" x="635" y="182" width="16" height="25"/><text class="v" transform="translate(643,194.500) rotate(-90)">Gun 3</text></g>
<g id="n184"><rect class="bb" x="671" y="182" width="15" height="25"/><text class="v" transform="translate(678.500,194.500) rotate(-90)">Mine trials</text></g>
<g id="n185"><rect class="bb" x="696" y="188" width="15" height="27"/><text class="v" transform="translate(703.500,201.500) rotate(-90)">Training</text></g>
<g id="n186"><use href="#st" x="734" y="188" class="sg"/><text class="t" x="734" y="189">eval</text></g>
<g id="n187"><rect class="gb" x="742" y="208" width="15" height="16"/><text class="t" x="749.500" y="217">safety</text></g>
<g id="n188"><circle class="cg" cx="739" cy="243" r="10"/><text class="t" x="739" y="244">safety</text></g>
<g id="n189"><use href="#tu" x="781" y="245" class="tg"/><text class="t" x="781" y="249">test</text></g>
<g id="n190"><use href="#tu" x="768" y="272" class="tg"/><text class="t" x="768" y="276">test</text></g>
<g id="n191"><rect class="bb" x="754" y="151" width="16" height="27"/><text class="v" transform="translate(762,164.500) rotate(-90)">Navy 1</text></g>
<g id="n192"><rect class="bb" x="780" y="168" width="15" height="26"/><text class="v" transform="translate(787.500,181) rotate(-90)">Navy 2</text></g>
<g id="n193"><rect class="bb" x="787" y="206" width="16" height="26"/><text class="v" transform="translate(795,219) rotate(-90)">Helicopter</text></g>
<g id="n194"><use href="#st" x="819" y="187" class="sg"/><text class="t" x="819" y="188">eval</text></g>
<g id="n195"><rect class="gb" x="818" y="206" width="15" height="16"/><text class="t" x="825.500" y="215">litter</text></g>
<g id="n196"><circle class="cg" cx="826" cy="243" r="10"/><text class="t" x="826" y="244">radar</text></g>
<g id="n197"><use href="#tu" x="860" y="245" class="tg"/><text class="t" x="860" y="249">test</text></g>
<g id="n198"><rect class="bb" x="797" y="34" width="16" height="25"/><text class="v" transform="translate(805,46.500) rotate(-90)">audit</text></g>
<g id="n199"><rect class="bb" x="798" y="79" width="16" height="25"/><text class="v" transform="translate(806,91.500) rotate(-90)">Multirole</text></g>
<g id="n200"><rect class="bb" x="909" y="50" width="16" height="27"/><text class="v" transform="translate(917,63.500) rotate(-90)">plan</text></g>
<g id="n201"><rect class="bb" x="964" y="85" width="15" height="25"/><text class="v" transform="translate(971.500,97.500) rotate(-90)">cadges</text></g>
<g id="n202"><rect class="kb" x="988" y="84" width="17" height="15"/><text class="t" x="996.500" y="92">tender</text></g>
<g id="n203"><rect class="kb" x="988" y="107" width="16" height="17"/><text class="t" x="996" y="116">tender</text></g>
<g id="n204"><circle class="c" cx="1027" cy="129" r="10"/><text class="t" x="1027" y="130">tender</text></g>
<g id="n205"><use href="#td" x="1053" y="140" class="tr"/><text class="t" x="1053" y="138">target</text></g>
<g id="n206"><rect class="pb" x="1048" y="99" width="22" height="17"/><text class="t" x="1059" y="106">Sign</text><text class="t" x="1059" y="110">contract</text></g>
<g id="n207"><circle class="c" cx="1031" cy="156" r="10"/><text class="t" x="1031" y="157">tender</text></g>
<g id="n208"><rect class="yb" x="988" y="167" width="16" height="16"/><text class="t" x="996" y="176">bid</text></g>
<g id="n209"><rect class="yb" x="988" y="191" width="16" height="15"/><text class="t" x="996" y="199">bid</text></g>
<g id="n210"><rect class="kb" x="988" y="213" width="16" height="15"/><text class="t" x="996" y="221">bid</text></g>
<g id="n211"><rect x="964" y="189" width="15" height="26" fill="#ff0" stroke="#3333ff" stroke-width="1.4"/><text class="v" transform="translate(971.500,202) rotate(-90)">Planning</text></g>
<g id="n212"><rect class="bb" x="938" y="194" width="15" height="26"/><text class="v" transform="translate(945.500,207) rotate(-90)">Review</text></g>
<g id="n213"><rect class="bb" x="861" y="123" width="15" height="27"/><text class="v" transform="translate(868.500,136.500) rotate(-90)">Key tasks</text></g>
<g id="n214"><rect class="kb" x="886" y="133" width="17" height="15"/><text class="t" x="894.500" y="141">gap</text></g>
<g id="n215"><circle class="c" cx="895" cy="169" r="10"/><text class="t" x="895" y="170">gap</text></g>
<g id="n216"><use href="#tu" x="920" y="168" class="tr"/><text class="t" x="920" y="172">test</text></g>

<g id="n217"><rect class="bb" x="33" y="579" width="16" height="26"/><text class="v" transform="translate(41,592) rotate(-90)">Recreation</text></g>
<g id="n218"><rect class="bb" x="141" y="515" width="16" height="26"/><text class="v" transform="translate(149,528) rotate(-90)">interfaces</text></g>
<g id="n219"><rect class="kb" x="169" y="503" width="15" height="16"/><text class="t" x="176.500" y="512">unit</text></g>
<g id="n220"><rect class="kb" x="188" y="507" width="16" height="17"/><text class="t" x="196" y="516">unit</text></g>
<g id="n221"><rect class="kb" x="187" y="530" width="16" height="15"/><text class="t" x="195" y="538">gen</text></g>
<g id="n222"><rect class="kb" x="168" y="538" width="15" height="15"/><text class="t" x="175.500" y="546">unit</text></g>
<g id="n223"><circle class="c" cx="184" cy="571" r="10"/><text class="t" x="184" y="572">hmi</text></g>
<g id="n224"><use href="#tu" x="217" y="573" class="tr"/><text class="t" x="217" y="577">test</text></g>
<g id="n225"><circle class="c" cx="257" cy="586" r="10"/><text class="t" x="257" y="587">eval</text></g>
<g id="n226"><circle class="c" cx="247" cy="521" r="10"/><text class="t" x="247" y="522">tasks</text></g>
<g id="n227"><use href="#tu" x="274" y="541" class="tr"/><text class="t" x="274" y="545">test</text></g>
<g id="n228"><circle class="cg" cx="315" cy="586" r="10"/><text class="t" x="315" y="587">links</text></g>
<g id="n229"><circle class="cg" cx="339" cy="586" r="10"/><text class="t" x="339" y="587">test</text></g>
<g id="n230"><rect class="bb" x="116" y="624" width="14" height="26"/><text class="v" transform="translate(123,637) rotate(-90)">engines</text></g>
<g id="n231"><rect class="kb" x="154" y="610" width="15" height="17"/><text class="t" x="161.500" y="619">power</text></g>
<g id="n232"><rect class="kb" x="180" y="628" width="16" height="16"/><text class="t" x="188" y="637">tow</text></g>
<g id="n233"><use href="#st" x="153" y="658" class="s0"/><text class="t" x="153" y="659">plan</text></g>
<g id="n234"><use href="#st" x="187" y="677" class="s0"/><text class="t" x="187" y="678">plan</text></g>
<g id="n235"><use href="#tu" x="230" y="670" class="tr"/><text class="t" x="230" y="674">test</text></g>
<g id="n236"><circle class="c" cx="249" cy="644" r="10"/><text class="t" x="249" y="645">change</text></g>
<g id="n237"><circle class="c" cx="272" cy="645" r="10"/><text class="t" x="272" y="646">test</text></g>
<g id="n238"><use href="#tu" x="311" y="654" class="tr"/><text class="t" x="311" y="658">test</text></g>
<g id="n239"><rect class="kb" x="254" y="666" width="16" height="16"/><text class="t" x="262" y="675">unit</text></g>
<g id="n240"><use href="#st" x="294" y="690" class="s0"/><text class="t" x="294" y="691">plan</text></g>
<g id="n241"><rect class="bb" x="221" y="682" width="16" height="25"/><text class="v" transform="translate(229,694.500) rotate(-90)">cooler ops</text></g>
<g id="n242"><rect class="bb" x="27" y="656" width="16" height="26"/><text class="v" transform="translate(35,669) rotate(-90)">Tigr dev</text></g>

<g id="n243"><rect class="bb" x="364" y="599" width="15" height="25"/><text class="v" transform="translate(371.500,611.500) rotate(-90)">Source</text></g>
<g id="n244"><use href="#st" x="404" y="613" class="s0"/><text class="t" x="404" y="614">plan</text></g>
<g id="n245"><circle class="c" cx="446" cy="610" r="10"/><text class="t" x="446" y="611">bids</text></g>
<g id="n246"><use href="#tu" x="484" y="610" class="tr"/><text class="t" x="484" y="614">test</text></g>
<g id="n247"><rect class="kb" x="429" y="637" width="15" height="17"/><text class="t" x="436.500" y="646">core</text></g>
<g id="n248"><rect class="kb" x="434" y="662" width="15" height="15"/><text class="t" x="441.500" y="670">unit</text></g>
<g id="n249"><rect class="bb" x="380" y="644" width="15" height="25"/><text class="v" transform="translate(387.500,656.500) rotate(-90)">health</text></g>
<g id="n250"><rect class="bb" x="349" y="656" width="15" height="26"/><text class="v" transform="translate(356.500,669) rotate(-90)">Recycling</text></g>
<g id="n251"><rect class="gb" x="483" y="644" width="16" height="16"/><text class="t" x="491" y="653">bids</text></g>
<g id="n252"><use href="#st" x="495" y="681" class="sc"/><text class="t" x="495" y="682">eval</text></g>
<g id="n253"><rect class="bb" x="522" y="656" width="16" height="26"/><text class="v" transform="translate(530,669) rotate(-90)">Lite</text></g>
<g id="n254"><rect class="bb" x="560" y="669" width="16" height="26"/><text class="v" transform="translate(568,682) rotate(-90)">scope</text></g>
<g id="n255"><circle class="cg" cx="573" cy="595" r="10"/><text class="t" x="573" y="596">audit</text></g>
<g id="n256"><circle class="cg" cx="557" cy="613" r="10"/><text class="t" x="557" y="614">plans</text></g>
<g id="n257"><circle class="c" cx="630" cy="551" r="10"/><text class="t" x="630" y="552">net</text></g>
<g id="n258"><use href="#tu" x="657" y="552" class="tr"/><text class="t" x="657" y="556">test</text></g>
<g id="n259"><circle class="c" cx="687" cy="569" r="10"/><text class="t" x="687" y="570">MDR</text></g>
<g id="n260"><circle class="c" cx="739" cy="550" r="10"/><text class="t" x="739" y="551">console</text></g>
<g id="n261"><use href="#tu" x="717" y="584" class="tr"/><text class="t" x="717" y="588">test</text></g>
<g id="n262"><use href="#tu" x="767" y="615" class="tr"/><text class="t" x="767" y="619">test</text></g>
<g id="n263"><circle class="c" cx="798" cy="615" r="10"/><text class="t" x="798" y="616">test</text></g>
<g id="n264"><circle class="c" cx="772" cy="646" r="10"/><text class="t" x="772" y="647">final</text></g>
<g id="n265"><rect class="bb" x="591" y="573" width="15" height="26"/><text class="v" transform="translate(598.500,586) rotate(-90)">Recycling</text></g>
<g id="n266"><rect class="bb" x="622" y="583" width="16" height="26"/><text class="v" transform="translate(630,596) rotate(-90)">Missile</text></g>
<g id="n267"><rect class="kb" x="654" y="585" width="16" height="16"/><text class="t" x="662" y="594">unit</text></g>
<g id="n268"><rect class="kb" x="648" y="611" width="17" height="16"/><text class="t" x="656.500" y="620">unit</text></g>
<g id="n269"><rect class="gb" x="680" y="590" width="16" height="16"/><text class="t" x="688" y="599">MDR</text></g>
<g id="n270"><use href="#st" x="681" y="623" class="sg"/><text class="t" x="681" y="624">eval</text></g>
<g id="n271"><rect class="bb" x="710" y="605" width="15" height="25"/><text class="v" transform="translate(717.500,617.500) rotate(-90)">Lite</text></g>
<g id="n272"><circle class="cg" cx="612" cy="656" r="10"/><text class="t" x="612" y="657">ECOM</text></g>
<g id="n273"><rect class="bb" x="700" y="668" width="15" height="27"/><text class="v" transform="translate(707.500,681.500) rotate(-90)">Interfaces</text></g>
<g id="n274"><rect class="gb" x="763" y="663" width="16" height="17"/><text class="t" x="771" y="672">final</text></g>
<g id="n275"><use href="#st" x="742" y="690" class="sg"/><text class="t" x="742" y="691">eval</text></g>
</g>

<g id="flags">
<g id="f1"><use href="#ar2" x="118" y="181" class="ya"/><text class="t" x="130" y="189">risk register</text></g>
<g id="f2"><use href="#ar2" x="135" y="201" class="ra"/><text class="t" x="147" y="209">lessons</text></g>
<g id="f3"><use href="#ar2" x="148" y="227" class="ya"/><text class="t" x="160" y="235">operations</text></g>
<g id="f4"><use href="#ar2" x="269" y="274" class="ya"/><text class="t" x="281" y="282">dvds</text></g>
<g id="f5"><use href="#ar2" x="328" y="58" class="ra"/><text class="t" x="340" y="66">contracts</text></g>
<g id="f6"><use href="#ar2" x="285" y="85" class="ra"/><text class="t" x="297" y="93">plans</text></g>
<g id="f7"><use href="#ar2" x="561" y="22" class="ra"/><text class="t" x="573" y="30">list</text></g>
<g id="f8"><use href="#ar2" x="659" y="143" class="ra"/><text class="t" x="671" y="151">Commanders</text></g>
<g id="f9"><use href="#ar2" x="836" y="59" class="ra"/><text class="t" x="848" y="67">market</text></g>
<g id="f10"><use href="#ar2" x="909" y="246" class="ra"/><text class="t" x="921" y="254">warships</text></g>
<g id="f11"><use href="#ar2" x="887" y="284" class="ra"/><text class="t" x="899" y="292">subs</text></g>
<g id="f12"><use href="#ar2" x="50" y="684" class="ra"/><text class="t" x="62" y="692">sources</text></g>
<g id="f13"><use href="#ar2" x="89" y="677" class="ra"/><text class="t" x="101" y="685">plan set</text></g>
<g id="f14"><use href="#ar2" x="324" y="691" class="ra"/><text class="t" x="336" y="699">sources</text></g>
<g id="f15"><use href="#ar2" x="802" y="685" class="ra"/><text class="t" x="814" y="693">sources</text></g>
</g>
</svg>
